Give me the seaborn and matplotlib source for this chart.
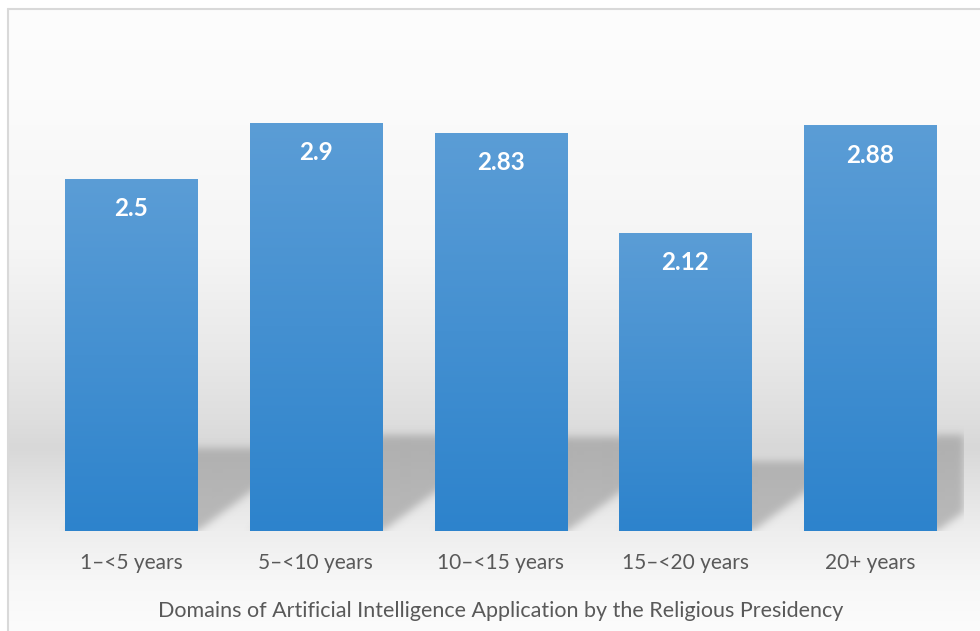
import numpy as np
import pandas as pd
import matplotlib
matplotlib.use("Agg")
import matplotlib.pyplot as plt
from matplotlib.lines import Line2D
import seaborn as sns

# ---- data -------------------------------------------------------------
categories = ["1–<5 years", "5–<10 years", "10–<15 years", "15–<20 years", "20+ years"]
scores = [2.5, 2.9, 2.83, 2.12, 2.88]
x_title = "Domains of Artificial Intelligence Application by the Religious Presidency"

# ---- canvas -----------------------------------------------------------
W, H, DPI = 980, 631, 100
sns.set_theme(style="white")
plt.rcParams["font.family"] = ["Lato", "DejaVu Sans"]

fig = plt.figure(figsize=(W / DPI, H / DPI), dpi=DPI)
fig.patch.set_facecolor("white")

# chart-area backdrop: soft vertical grey gradient with a darker "floor" band
frame_x, frame_y = 8, 9
bg = fig.add_axes([frame_x / W, 0, 1 - frame_x / W, 1 - frame_y / H])
rows = np.arange(H - frame_y)
stop_rows = np.array([0, 100, 250, 350, 420, 447, 480, 531, 580, 631]) - frame_y
stop_vals = [253, 251, 245, 233, 222, 216, 225, 238, 247, 252]
shade = np.interp(rows, stop_rows, stop_vals) / 255.0
bg.imshow(np.repeat(shade[:, None, None], 3, axis=2), aspect="auto",
          extent=[0, 1, 0, 1], origin="upper", interpolation="bilinear")
bg.set_axis_off()

# frame lines (top / left edge of the chart area)
frame_col = "#d9d9d9"
fig.add_artist(Line2D([frame_x / W, frame_x / W], [0, 1 - frame_y / H],
                      transform=fig.transFigure, color=frame_col, lw=1.5))
fig.add_artist(Line2D([frame_x / W, 1], [1 - frame_y / H, 1 - frame_y / H],
                      transform=fig.transFigure, color=frame_col, lw=1.5))

# ---- plot area --------------------------------------------------------
px_per_unit = 140.8
y_max = 3.5
ax_left, ax_right, ax_base = 38.6, 962.6, 531
ax = fig.add_axes([ax_left / W, (H - ax_base) / H,
                   (ax_right - ax_left) / W, y_max * px_per_unit / H])
ax.set_facecolor("none")

df = pd.DataFrame({"period": categories, "score": scores})
sns.barplot(data=df, x="period", y="score", ax=ax, width=0.715,
            color="#4690d4", saturation=1, edgecolor="none", linewidth=0,
            zorder=3, errorbar=None)
ax.set_xlim(-0.5, len(categories) - 0.5)
ax.set_ylim(0, y_max)

# ---- perspective drop shadows behind the bars -------------------------
nx = int(round(ax_right - ax_left))
ny = int(round(y_max * px_per_unit))
x_px = nx / len(categories)
mask = np.zeros((ny, nx))
slant, squash = 1.35, 0.236
yy = np.arange(ny) + 0.5
xx = np.arange(nx) + 0.5
for p in ax.patches:
    xl = (p.get_x() + 0.5) * x_px
    xr = (p.get_x() + p.get_width() + 0.5) * x_px
    hs = p.get_height() * px_per_unit * squash
    for j, y in enumerate(yy):
        if y > hs:
            break
        sel = (xx >= xl + slant * y) & (xx <= xr + slant * y)
        mask[j, sel] = 1.0

def blur(a, sigma):
    k = np.arange(-int(3 * sigma), int(3 * sigma) + 1)
    kern = np.exp(-0.5 * (k / sigma) ** 2)
    kern /= kern.sum()
    a = np.apply_along_axis(lambda r: np.convolve(r, kern, mode="same"), 1, a)
    a = np.apply_along_axis(lambda c: np.convolve(c, kern, mode="same"), 0, a)
    return a

soft = blur(mask, 4.0)
shadow = np.zeros((ny, nx, 4))
shadow[..., :3] = 150 / 255
shadow[..., 3] = 0.6 * soft
ax.imshow(shadow, extent=(-0.5, len(categories) - 0.5, 0, y_max), origin="lower",
          aspect="auto", zorder=1, interpolation="bilinear")

# ---- vertical gradient fill for each bar ------------------------------
top_rgb = np.array([91, 157, 214]) / 255
bot_rgb = np.array([45, 131, 204]) / 255
t = np.linspace(0, 1, 256)[:, None]
grad = (top_rgb[None, :] * (1 - t) + bot_rgb[None, :] * t)[:, None, :]
for p in ax.patches:
    x0, w, h = p.get_x(), p.get_width(), p.get_height()
    im = ax.imshow(grad, extent=(x0, x0 + w, 0, h), origin="upper",
                   aspect="auto", zorder=4, interpolation="bilinear")
    im.set_clip_path(p)

ax.set_xlim(-0.5, len(categories) - 0.5)
ax.set_ylim(0, y_max)

# ---- value labels inside bar tops -------------------------------------
for p, v in zip(ax.patches, scores):
    ax.annotate(f"{v:g}", xy=(p.get_x() + p.get_width() / 2, v),
                xytext=(0, -21.6), textcoords="offset points",
                ha="center", va="center", color="white",
                fontsize=17.5, fontweight="bold", zorder=6)

# ---- axes cosmetics ---------------------------------------------------
for s in ax.spines.values():
    s.set_visible(False)
ax.set_yticks([])
ax.set_ylabel("")
ax.tick_params(axis="x", length=0, pad=16, labelsize=15, labelcolor="#595959")
ax.set_xlabel(x_title, fontsize=15.5, color="#595959", labelpad=20)
ax.grid(False)

fig.savefig("out.png", dpi=DPI)
